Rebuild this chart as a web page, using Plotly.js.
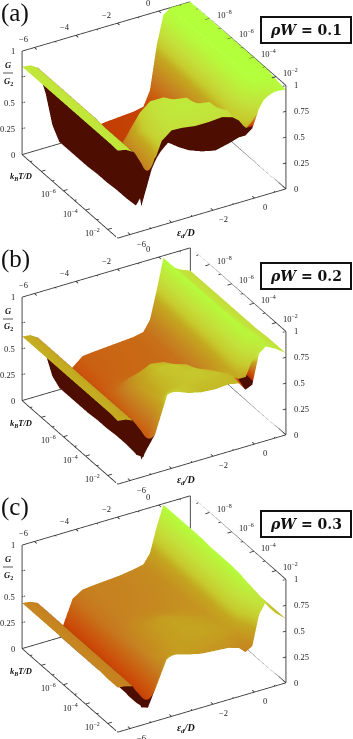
<!DOCTYPE html>
<html>
<head>
<meta charset="utf-8">
<script src="https://cdn.plot.ly/plotly-3.0.1.min.js"></script>
<style>html,body{margin:0;padding:0;background:#fff}#chart{width:353px;height:739px}</style>
</head>
<body>
<div id="chart"></div>
<script>
// grid, ε_d/D across and log10(k_B T/D) front to back
const epsGrid = [-6.6,-6.2,-5.87,-5.86,-5.46,-5.14,-4.81,-4.8,-4.16,-3.68,-3.19,-2.54,-1.89,-1.24,-0.75,-0.43,-0.1,0.22,0.55,1.03,1.52];
const logTGrid = [-9.73,-8.44,-7.14,-6.28,-5.42,-4.55,-3.69,-2.83,-2.14,-1.7,-1.69,-1.1];

const zA = [
  [.85,.84,.80,.80,.52,.20,.02,.02,.04,.05,.06,.08,.09,.10,.12,.26,.68,.95,1,1,1],
  [.85,.84,.80,.80,.52,.20,.02,.02,.05,.06,.07,.09,.10,.11,.13,.28,.68,.95,1,1,1],
  [.85,.84,.80,.80,.52,.20,.02,.02,.09,.10,.10,.11,.12,.13,.15,.30,.70,.95,1,1,1],
  [.85,.84,.80,.80,.52,.20,.03,.03,.18,.22,.20,.17,.15,.16,.18,.33,.72,.95,1,1,1],
  [.85,.84,.80,.80,.52,.20,.03,.03,.32,.48,.46,.36,.24,.20,.22,.36,.72,.95,1,1,1],
  [.85,.84,.80,.80,.52,.20,.04,.04,.52,.72,.80,.80,.60,.34,.28,.42,.74,.95,1,1,1],
  [.85,.84,.79,.79,.52,.20,.04,.04,.66,.78,.84,.86,.84,.62,.42,.50,.76,.95,1,1,1],
  [.85,.84,.79,.79,.52,.18,.05,.05,.72,.80,.84,.86,.86,.84,.72,.62,.76,.94,1,1,1],
  [.85,.84,.79,.79,.55,.14,.24,.24,.75,.80,.82,.84,.84,.84,.80,.70,.70,.85,.98,.99,.98],
  [.85,.83,.79,.79,.70,.58,.42,.42,.74,.815,.81,.79,.79,.80,.77,.72,.62,.68,.81,.90,.97],
  [.85,.83,.79,.79,.70,.58,.42,.42,.74,.815,.81,.79,.79,.80,.77,.72,.62,.68,.81,.90,.97],
  [.845,.83,.79,.79,.24,.45,.67,.67,.78,.71,.65,.60,.57,.60,.63,.63,.68,.85,.95,.97,.96],
];
const zB = [
  [.62,.61,.57,.57,.38,.15,.02,.02,.18,.26,.27,.28,.29,.30,.32,.42,.69,.98,.88,.82,.78],
  [.62,.61,.57,.57,.38,.15,.02,.02,.19,.26,.27,.28,.29,.30,.33,.43,.70,.98,.88,.82,.78],
  [.62,.61,.57,.57,.38,.15,.02,.02,.22,.27,.28,.29,.30,.31,.34,.45,.72,.98,.89,.82,.78],
  [.62,.61,.57,.57,.38,.15,.03,.03,.27,.32,.32,.31,.31,.32,.35,.47,.73,.98,.90,.82,.78],
  [.62,.61,.57,.57,.38,.15,.03,.03,.36,.46,.48,.42,.36,.34,.36,.50,.74,.97,.90,.82,.78],
  [.62,.61,.57,.57,.38,.15,.04,.04,.46,.58,.64,.62,.50,.40,.40,.52,.75,.97,.90,.83,.78],
  [.62,.61,.57,.57,.38,.15,.04,.04,.54,.62,.67,.68,.64,.50,.48,.56,.76,.97,.91,.83,.78],
  [.62,.61,.57,.57,.38,.13,.03,.03,.58,.63,.66,.68,.68,.63,.58,.60,.76,.95,.92,.84,.79],
  [.62,.61,.57,.57,.38,.10,.06,.06,.60,.64,.66,.68,.68,.67,.63,.60,.72,.92,.93,.85,.79],
  [.62,.60,.57,.57,.47,.37,.25,.25,.62,.68,.68,.66,.66,.66,.64,.60,.60,.75,.90,.86,.79],
  [.62,.60,.57,.57,.47,.37,.25,.25,.62,.68,.68,.66,.66,.66,.64,.60,.60,.75,.90,.86,.79],
  [.61,.60,.57,.57,.17,.27,.37,.37,.75,.72,.68,.65,.64,.65,.63,.55,.58,.86,.91,.86,.79],
];
const zC = [
  [.44,.43,.40,.40,.28,.12,.02,.02,.34,.40,.41,.42,.43,.45,.47,.56,.80,.99,.85,.68,.62],
  [.44,.43,.40,.40,.28,.12,.02,.02,.34,.40,.41,.42,.43,.45,.47,.56,.80,.99,.85,.68,.62],
  [.44,.43,.40,.40,.28,.12,.02,.02,.35,.40,.42,.43,.44,.46,.48,.57,.80,.99,.85,.68,.62],
  [.44,.43,.40,.40,.28,.12,.02,.02,.36,.41,.43,.44,.45,.47,.49,.58,.81,.99,.85,.68,.62],
  [.44,.43,.40,.40,.28,.12,.03,.03,.38,.44,.47,.48,.48,.49,.50,.58,.81,.98,.85,.68,.62],
  [.44,.43,.40,.40,.28,.12,.03,.03,.40,.47,.52,.55,.53,.51,.51,.59,.81,.98,.85,.68,.62],
  [.44,.43,.40,.40,.28,.12,.03,.03,.42,.49,.54,.58,.57,.55,.53,.60,.81,.98,.85,.69,.62],
  [.44,.43,.40,.40,.28,.10,.03,.03,.44,.50,.55,.58,.58,.57,.55,.60,.81,.97,.85,.70,.62],
  [.43,.42,.40,.40,.28,.10,.04,.04,.48,.52,.55,.57,.58,.57,.55,.58,.76,.95,.86,.71,.62],
  [.43,.42,.40,.40,.29,.20,.12,.12,.45,.54,.55,.55,.54,.54,.50,.50,.62,.85,.85,.70,.62],
  [.43,.42,.40,.40,.29,.20,.12,.12,.45,.54,.55,.55,.54,.54,.50,.50,.62,.85,.85,.70,.62],
  [.43,.42,.40,.40,.17,.15,.30,.30,.60,.58,.55,.52,.51,.50,.47,.41,.45,.73,.84,.70,.62],
];

// columns and rows shown as the maroon back of the sheet
const wallCols = [3, 6];
const frontRows = [10, 11];
const frontColsA = [3, 16];
const frontColsB = [15, 16];
const frontColsC = [3, 6];

const epsRange = [-6.6, 1.52];
const logTRange = [-9.73, -1.1];
const zRange = [0, 1];
const epsTicksTop = [-6, -4, -2, 0];
const epsTicksBottom = [-6, -2, 0];
const logTTicks = [-8, -6, -4, -2];
const zLeftTicks = [0, 0.25, 0.5, 1];
const zRightTicks = [0, 0.25, 0.5, 0.75, 1];
const panelLetters = ["(a)", "(b)", "(c)"];
const panelLabels = ["0.1", "0.2", "0.3"];
const panelTops = [0, 246, 494];

const W = 353, H = 739;
const DARK = -0.1;
const colorscale = [
  [0, "#4d0d00"], [0.09, "#4d0d00"], [0.095, "#b83000"],
  [0.23, "#cc4c08"], [0.45, "#c67e20"], [0.64, "#c4a820"],
  [0.72, "#c6cc2e"], [0.82, "#c4e03a"], [1, "#b4ff3c"],
];

const yOf = (t) => -t;

function paintGrid(z, frontCols) {
  return z.map((row, r) =>
    row.map((v, c) => {
      const inWall = c >= wallCols[0] && c <= wallCols[1];
      const inFront = r >= frontRows[0] && c >= frontCols[0] && c <= frontCols[1];
      return inWall || inFront ? DARK : v;
    })
  );
}

function boxLines() {
  const [x0, x1] = epsRange;
  const y0 = yOf(logTRange[1]), y1 = yOf(logTRange[0]);
  const xs = [], ys = [], zs = [];
  const seg = (a, b) => {
    xs.push(a[0], b[0], null);
    ys.push(a[1], b[1], null);
    zs.push(a[2], b[2], null);
  };
  seg([x0, y1, 0], [x0, y0, 0]);
  seg([x0, y0, 0], [x1, y0, 0]);
  seg([x1, y0, 0], [x1, y1, 0]);
  seg([x1, y1, 0], [x0, y1, 0]);
  seg([x0, y1, 0], [x0, y1, 1]);
  seg([x1, y1, 0], [x1, y1, 1]);
  seg([x1, y0, 0], [x1, y0, 1]);
  seg([x0, y1, 1], [x1, y1, 1]);
  seg([x1, y1, 1], [x1, y0, 1]);
  // tick marks
  for (let e = -6; e <= 1; e++) {
    const l = e % 2 === 0 ? 0.2 : 0.1;
    seg([e, y0, 0], [e, y0 + l, 0]);
    seg([e, y1, 1], [e, y1 - l, 1]);
  }
  for (let t = -9; t <= -2; t++) {
    const l = t % 2 === 0 ? 0.2 : 0.1;
    seg([x0, yOf(t), 0], [x0 + l, yOf(t), 0]);
    seg([x1, yOf(t), 1], [x1 - l, yOf(t), 1]);
  }
  for (let q = 0; q <= 4; q++) {
    seg([x0, y1, q / 4], [x0 + 0.15, y1, q / 4]);
    seg([x1, y0, q / 4], [x1 - 0.15, y0, q / 4]);
  }
  return { xs, ys, zs };
}

function tickLabels() {
  const font = { family: "Liberation Serif", size: 8.5, color: "#222" };
  const out = [];
  const add = (x, y, z, text, xshift, yshift, xanchor) =>
    out.push({ x, y, z, text, xshift, yshift, xanchor: xanchor || "center", yanchor: "middle", showarrow: false, font });
  const yFront = yOf(logTRange[1]), yBack = yOf(logTRange[0]);
  const num = (e) => (e < 0 ? "\u2212" : "") + Math.abs(e);
  epsTicksBottom.forEach((e) => add(e, yFront, 0, num(e), 11, -9));
  epsTicksTop.forEach((e) => add(e, yBack, 1, num(e), -11, 8));
  logTTicks.forEach((t) => {
    const s = "10<sup>\u2212" + Math.abs(t) + "</sup>";
    add(epsRange[1], yOf(t), 1, s, 15, 4);
    if (t > -8) add(epsRange[0], yOf(t), 0, s, -15, -3);
  });
  zLeftTicks.forEach((q) => add(epsRange[0], yBack, q, String(q), -5, 0, "right"));
  zRightTicks.forEach((q) => add(epsRange[1], yFront, q, String(q), 6, 0, "left"));
  return out;
}

const traces = [];
const layout = {
  width: W, height: H,
  margin: { l: 0, r: 0, t: 0, b: 0 },
  paper_bgcolor: "white",
  showlegend: false,
  annotations: [],
  shapes: [],
};
const box = boxLines();

[zA, zB, zC].forEach((z, i) => {
  const sid = i === 0 ? "scene" : "scene" + (i + 1);
  traces.push({
    type: "surface",
    scene: sid,
    x: epsGrid,
    y: logTGrid.map(yOf),
    z: z,
    surfacecolor: paintGrid(z, [frontColsA, frontColsB, frontColsC][i]),
    colorscale: colorscale,
    cmin: DARK, cmax: 1,
    showscale: false,
    hoverinfo: "skip",
    lighting: { ambient: 1, diffuse: 0, specular: 0, roughness: 1, fresnel: 0 },
    contours: { x: { highlight: false }, y: { highlight: false }, z: { highlight: false } },
  });
  traces.push({
    type: "scatter3d",
    scene: sid,
    mode: "lines",
    x: box.xs, y: box.ys, z: box.zs,
    line: { color: "#333", width: 1.7 },
    hoverinfo: "skip",
  });

  const top = panelTops[i];
  const axis = (range) => ({ visible: false, range: range, autorange: false });
  layout[sid] = {
    domain: { x: [0, 308 / W], y: [1 - (top + 240) / H, 1 - top / H] },
    aspectmode: "manual",
    aspectratio: { x: 1.62, y: 1.59, z: 1.0 },
    camera: {
      projection: { type: "orthographic" },
      center: { x: 0, y: 0, z: 0 },
      up: { x: 0, y: 0, z: 1 },
      eye: { x: -0.864, y: -1.492, z: 1.012 },
    },
    xaxis: axis(epsRange),
    yaxis: axis([yOf(logTRange[1]), yOf(logTRange[0])]),
    zaxis: axis(zRange),
    annotations: tickLabels(),
    bgcolor: "rgba(0,0,0,0)",
  };

  const pap = (x, y, text, size, extra) =>
    layout.annotations.push(Object.assign({
      xref: "paper", yref: "paper", x: x / W, y: 1 - (top + y) / H, text,
      showarrow: false, xanchor: "center", yanchor: "middle",
      font: { family: "Liberation Serif", size, color: "#111" },
    }, extra || {}));

  pap(15, 13, panelLetters[i], 25);
  pap(306, 30, "<b><i>\u03c1W</i> = " + panelLabels[i] + "</b>", 14, {
    bgcolor: "white", bordercolor: "#111", borderwidth: 2, width: 86, height: 22,
    font: { family: "DejaVu Serif", size: 14, color: "#111" },
  });
  pap(21, 177, "<b><i>k<sub>B</sub>T/D</i></b>", 8.5);
  pap(186, 234, "<b><i>\u03b5<sub>d</sub>/D</i></b>", 10);
  pap(8, 65, "<b><i>G</i></b>", 8.5);
  pap(8, 81, "<b><i>G</i><sub>2</sub></b>", 8.5);
  layout.shapes.push({
    type: "line", xref: "paper", yref: "paper",
    x0: 3 / W, x1: 13 / W, y0: 1 - (top + 73) / H, y1: 1 - (top + 73) / H,
    line: { color: "#111", width: 0.7 },
  });
});

Plotly.newPlot("chart", traces, layout, { displayModeBar: false });
</script>
</body>
</html>
